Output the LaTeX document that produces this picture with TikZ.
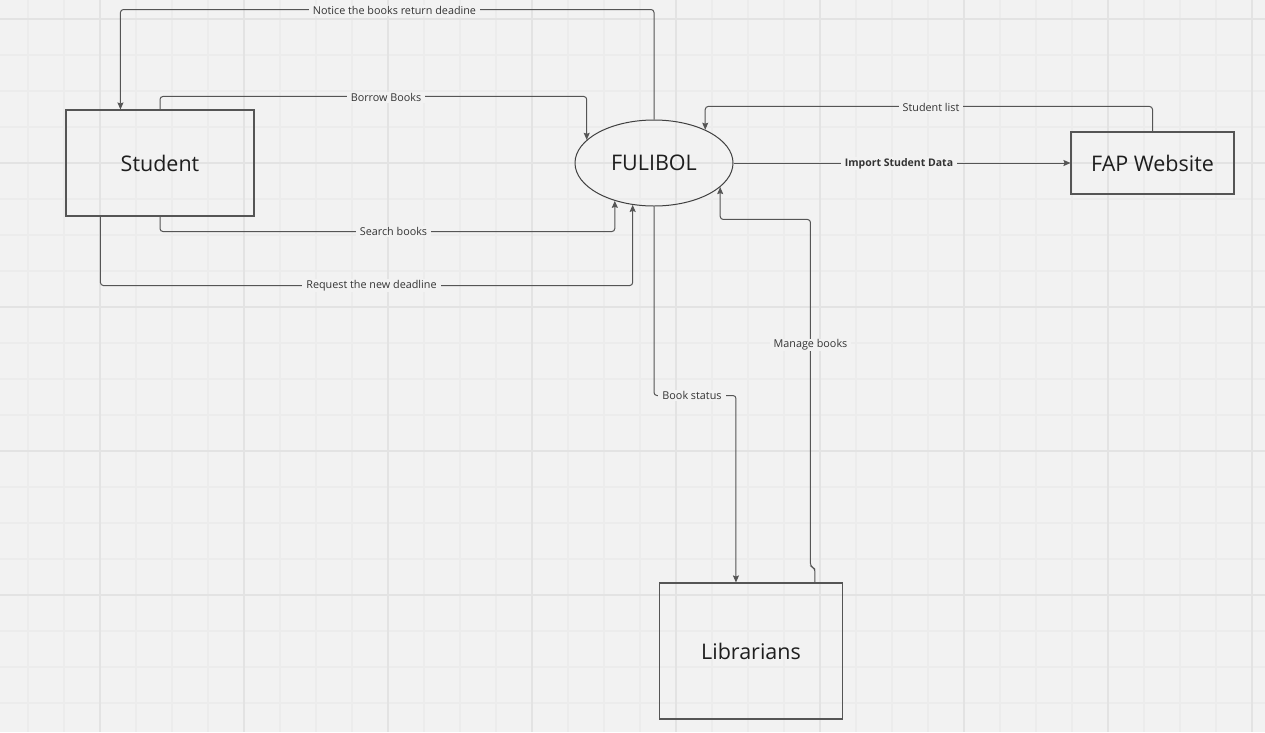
\documentclass[tikz,border=0pt]{standalone}
\usepackage{fontspec}
\setmainfont{Open Sans}
\usetikzlibrary{arrows.meta,shapes.geometric,calc}

\definecolor{canvas}{HTML}{F2F2F2}
\definecolor{gridminor}{HTML}{ECECEC}
\definecolor{gridmajor}{HTML}{E3E3E3}
\definecolor{ink}{HTML}{555555}
\definecolor{txt}{HTML}{1E1E1E}
\definecolor{lbltxt}{HTML}{333333}

\begin{document}
\begin{tikzpicture}[x=1pt,y=-1pt,
  entity/.style={draw=ink, line width=1.1pt, inner sep=0pt,
    font=\fontsize{21.5}{24}\selectfont, text=txt},
  process/.style={draw=txt!85, line width=1pt, ellipse, inner sep=0pt,
    font=\fontsize{21.5}{24}\selectfont, text=txt},
  flow/.style={draw=ink, line width=1pt, rounded corners=3pt,
    -{Stealth[length=7pt,width=6pt,inset=1pt]}},
  lbl/.style={fill=canvas, inner xsep=4pt, inner ysep=1pt,
    font=\fontsize{10.8}{12}\selectfont, text=lbltxt}
]
% canvas and grid
\fill[canvas] (0,0) rectangle (1265,732);
\useasboundingbox (0,0) rectangle (1265,732);
\foreach \x in {28,64,...,1252}
  \draw[gridminor, line width=1.1pt] (\x,0) -- (\x,732);
\foreach \y in {19,55,...,720}
  \draw[gridminor, line width=1.1pt] (0,\y) -- (1265,\y);
\foreach \x in {100,244,...,1252}
  \draw[gridmajor, line width=1.4pt] (\x,0) -- (\x,732);
\foreach \y in {19,163,...,720}
  \draw[gridmajor, line width=1.4pt] (0,\y) -- (1265,\y);

% entities and the process
\node[entity, minimum width=188, minimum height=106] (stu) at (160,163) {Student};
\node[process, minimum width=158, minimum height=86] (ful) at (654,163) {FULIBOL};
\node[entity, minimum width=163, minimum height=62] (fap) at (1152.5,163) {FAP Website};
\node[entity, minimum width=183, minimum height=136] (lib) at (751,651) {Librarians};

% data flows
\draw[flow] (ful.north) -- ++(0,-110) -| ($(stu.north west)+(55,0)$);
\draw[flow] (stu.north) -- ++(0,-13) -| (ful.161.2);
\draw[flow] (stu.south) -- ++(0,15) -| (ful.224.8);
\draw[flow] ($(stu.south west)+(35,0)$) -- ++(0,69) -| (ful.243.2);
\draw[flow] (fap.north) -- ++(0,-25) -| (ful.33.7);
\draw[flow] (ful.east) -- (fap.west);
\draw[flow] (ful.south) -- ++(0,189) -| ($(lib.north west)+(77,0)$);
\draw[flow] ($(lib.north west)+(156,0)$) -- ++(0,-14) -- ++(-4.5,-2)
  -- ++(0,-347) -| (ful.340.3);

% flow labels
\node[lbl] (lnotice) at (394.5,10.5) {Notice the books return deadine};
\node[lbl] (lborrow) at (386,97.5) {Borrow Books};
\node[lbl] (lsearch) at (393.5,231.5) {Search books};
\node[lbl] (lrequest) at (371.5,285.5) {Request the new deadline};
\node[lbl] (llist) at (931,107.5) {Student list};
\node[lbl, font=\fontsize{10.5}{12}\selectfont\bfseries] (limport) at (899,163.5) {Import Student Data};
\node[lbl] (lstatus) at (692,395.5) {Book status};
\node[lbl] (lmanage) at (810.5,345) {Manage books};
\end{tikzpicture}
\end{document}
